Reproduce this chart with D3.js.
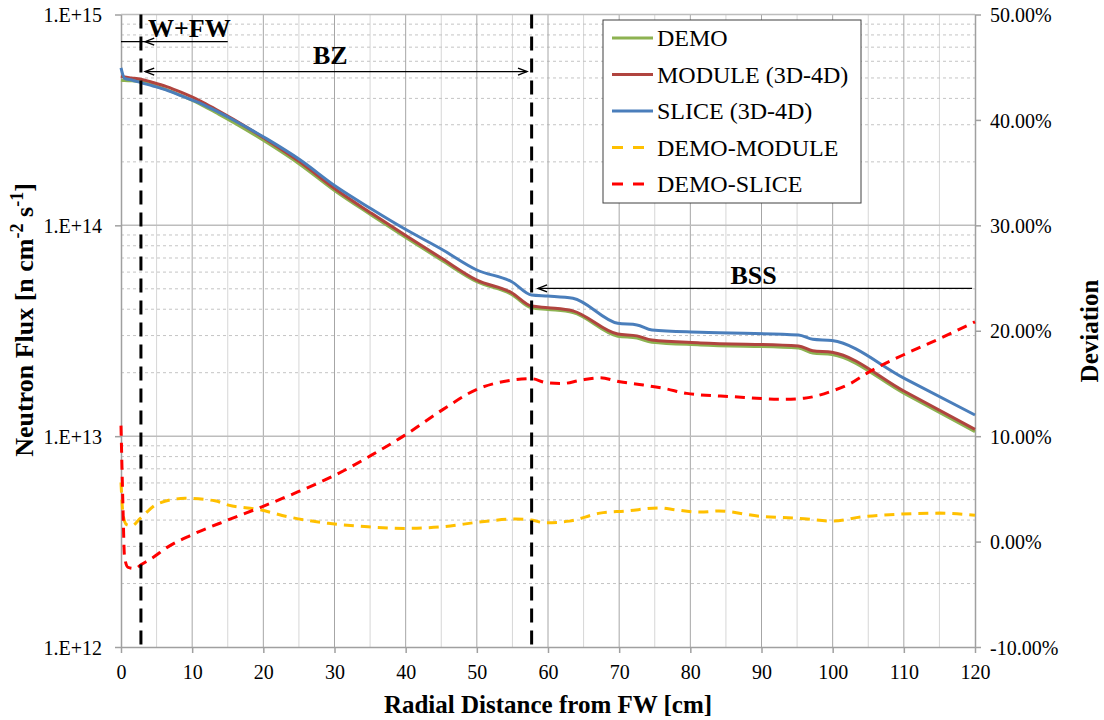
<!DOCTYPE html>
<html>
<head>
<meta charset="utf-8">
<script src="https://cdn.jsdelivr.net/npm/d3@7"></script>
<style>
  body { margin: 0; background: #fff; }
  text { font-family: "Liberation Serif", "Times New Roman", serif; fill: #000; }
</style>
</head>
<body>
<div id="chart"></div>
<script>
// radial distance [cm] for the flux curves
const fluxX = [0, 0.5, 1.5, 2.8, 4.5, 6.4, 8.5, 11.1, 13.5, 15.8, 20.5, 25.2, 30.1, 35.2, 39.9,
  45, 50, 54.9, 57.7, 60, 63.5, 69.8, 72.5, 74.6, 81.4, 95.2, 97.2, 99.9, 110, 120];

const demoFlux = [4.88e14, 4.86e14, 4.85e14, 4.80e14, 4.62e14, 4.40e14, 4.12e14, 3.76e14, 3.40e14, 3.08e14,
  2.47e14, 1.94e14, 1.455e14, 1.117e14, 8.80e13, 6.85e13, 5.40e13, 4.70e13, 4.06e13, 3.99e13,
  3.86e13, 2.98e13, 2.92e13, 2.79e13, 2.71e13, 2.62e13, 2.48e13, 2.44e13, 1.60e13, 1.05e13];

const moduleFlux = [5.11e14, 5.05e14, 5.00e14, 4.93e14, 4.76e14, 4.55e14, 4.27e14, 3.90e14, 3.52e14, 3.18e14,
  2.54e14, 1.99e14, 1.487e14, 1.14e14, 8.99e13, 7.00e13, 5.50e13, 4.79e13, 4.14e13, 4.07e13,
  3.93e13, 3.05e13, 2.99e13, 2.86e13, 2.77e13, 2.68e13, 2.54e13, 2.50e13, 1.637e13, 1.077e13];

const sliceFlux = [5.58e14, 4.98e14, 4.89e14, 4.75e14, 4.58e14, 4.38e14, 4.11e14, 3.80e14, 3.47e14, 3.16e14,
  2.57e14, 2.04e14, 1.536e14, 1.195e14, 9.60e13, 7.72e13, 6.14e13, 5.40e13, 4.67e13, 4.62e13,
  4.51e13, 3.43e13, 3.37e13, 3.19e13, 3.11e13, 3.02e13, 2.88e13, 2.84e13, 1.886e13, 1.26e13];

// deviations [%]
const devModuleX = [0, 0.3, 0.8, 1.5, 2.7, 5.2, 9, 13.2, 15.1, 19.3, 23.5, 29.1, 34.7, 39.9, 45.1, 50.7,
  55.4, 57.7, 59.6, 63, 67.3, 71, 75.7, 78, 81.4, 84, 89.8, 95.4, 100, 104, 109.5, 115, 120];
const devModule = [5.6, 2.5, 1.6, 1.5, 2.2, 3.6, 4.1, 3.87, 3.46, 3.05, 2.35, 1.73, 1.4, 1.25, 1.4, 1.88,
  2.14, 2.04, 1.78, 1.94, 2.7, 2.9, 3.2, 3.0, 2.8, 2.9, 2.4, 2.2, 1.94, 2.33, 2.6, 2.7, 2.5];

const devSliceX = [0, 0.25, 0.5, 1.0, 2.0, 2.8, 4.3, 6.6, 9.9, 15, 19.8, 24.9, 30.1, 35.2, 39.9, 45.1,
  50.2, 54.4, 57.7, 59.6, 62.1, 64.5, 67.3, 70.1, 73.4, 76.5, 79.5, 86, 93, 96, 100, 102.5, 105,
  109.9, 115.1, 120];
const devSlice = [11.0, 4.0, -1.5, -2.45, -2.55, -2.2, -1.6, -0.5, 0.62, 2.04, 3.3, 4.73, 6.31, 8.2, 10.1, 12.47,
  14.5, 15.26, 15.45, 15.1, 15.0, 15.3, 15.54, 15.16, 14.85, 14.5, 14.06, 13.74, 13.5, 13.6, 14.3, 15.0, 16.05,
  17.7, 19.28, 20.85];

const xTicks = d3.range(0, 121, 10);
const fluxTicks = [1e12, 1e13, 1e14, 1e15];
const devTicks = d3.range(-10, 51, 10);
const legendNames = ["DEMO", "MODULE (3D-4D)", "SLICE (3D-4D)", "DEMO-MODULE", "DEMO-SLICE"];

// layer boundaries [cm]
const boundaries = [2.8, 57.7];

const width = 1104, height = 720;
const plotLeft = 121, plotRight = 975, plotTop = 14.5, plotBottom = 647;

const x = d3.scaleLinear().domain([0, 120]).range([plotLeft, plotRight]);
const y = d3.scaleLog().domain([1e12, 1e15]).range([plotBottom, plotTop]);
const y2 = d3.scaleLinear().domain([-10, 50]).range([plotBottom, plotTop]);

const svg = d3.create('svg')
  .attr('width', width)
  .attr('height', height);

// grid
const minorX = d3.range(5, 120, 10);
svg.append('g').selectAll('line').data(minorX).join('line')
  .attr('x1', d => x(d)).attr('x2', d => x(d))
  .attr('y1', plotTop).attr('y2', plotBottom)
  .attr('stroke', '#d6d6d6').attr('stroke-width', 1);

const minorY = [];
[1e12, 1e13, 1e14].forEach(dec => {
  for (let k = 2; k <= 9; k++) minorY.push(k * dec);
});
svg.append('g').selectAll('line').data(minorY).join('line')
  .attr('x1', plotLeft).attr('x2', plotRight)
  .attr('y1', d => y(d)).attr('y2', d => y(d))
  .attr('stroke', '#c4c4c4').attr('stroke-width', 1)
  .attr('stroke-dasharray', '3,3');

svg.append('g').selectAll('line').data(xTicks.slice(1, -1)).join('line')
  .attr('x1', d => x(d)).attr('x2', d => x(d))
  .attr('y1', plotTop).attr('y2', plotBottom)
  .attr('stroke', '#a6a6a6').attr('stroke-width', 1);

svg.append('g').selectAll('line').data(fluxTicks.slice(1)).join('line')
  .attr('x1', plotLeft).attr('x2', plotRight)
  .attr('y1', d => y(d)).attr('y2', d => y(d))
  .attr('stroke', '#bdbdbd').attr('stroke-width', 1.5);

// axes
const styleAxis = g => {
  g.select('.domain').attr('stroke', '#a0a0a0').attr('stroke-width', 1.5);
  g.selectAll('.tick line').attr('stroke', '#a0a0a0').attr('stroke-width', 1.5);
  g.selectAll('.tick text').attr('font-size', 20).attr('font-family', '"Liberation Serif", serif').attr('fill', '#000');
};

svg.append('g')
  .attr('transform', `translate(0,${plotBottom})`)
  .call(d3.axisBottom(x).tickValues(xTicks).tickSize(6).tickSizeOuter(0).tickPadding(12))
  .call(styleAxis);

svg.append('g')
  .attr('transform', `translate(${plotLeft},0)`)
  .call(d3.axisLeft(y).tickValues(fluxTicks).tickSize(6).tickSizeOuter(0).tickPadding(13)
    .tickFormat(d => '1.E+' + Math.round(Math.log10(d))))
  .call(styleAxis)
  .call(g => g.selectAll('.tick text').attr('dy', '0.36em'));

svg.append('g')
  .attr('transform', `translate(${plotRight},0)`)
  .call(d3.axisRight(y2).tickValues(devTicks).tickSize(6).tickSizeOuter(0).tickPadding(9)
    .tickFormat(d => d.toFixed(2) + '%'))
  .call(styleAxis)
  .call(g => g.selectAll('.tick text').attr('dy', '0.36em'));

// flux lines
const fluxLine = d3.line()
  .x(d => x(d[0]))
  .y(d => y(d[1]))
  .curve(d3.curveMonotoneX);

const fluxSeries = [
  { values: demoFlux, color: '#8db251' },
  { values: moduleFlux, color: '#b0443f' },
  { values: sliceFlux, color: '#4a7ebb' }
];

fluxSeries.forEach(s => {
  svg.append('path')
    .datum(d3.zip(fluxX, s.values))
    .attr('d', fluxLine)
    .attr('fill', 'none')
    .attr('stroke', s.color)
    .attr('stroke-width', 3);
});

// deviation lines
const devLine = d3.line()
  .x(d => x(d[0]))
  .y(d => y2(d[1]))
  .curve(d3.curveMonotoneX);

const devSeries = [
  { xs: devModuleX, values: devModule, color: '#ffc000' },
  { xs: devSliceX, values: devSlice, color: '#ff0000' }
];

devSeries.forEach(s => {
  svg.append('path')
    .datum(d3.zip(s.xs, s.values))
    .attr('d', devLine)
    .attr('fill', 'none')
    .attr('stroke', s.color)
    .attr('stroke-width', 3)
    .attr('stroke-dasharray', '10,7');
});

// layer boundaries
svg.append('g').selectAll('line').data(boundaries).join('line')
  .attr('x1', d => x(d)).attr('x2', d => x(d))
  .attr('y1', plotTop).attr('y2', plotBottom)
  .attr('stroke', '#000').attr('stroke-width', 3)
  .attr('stroke-dasharray', '14,8');

// arrows
const arrowHead = (px, py, dir) =>
  `M${px + dir * 9},${py - 3.5}L${px},${py}L${px + dir * 9},${py + 3.5}`;

function arrow(x1, x2, yv, heads) {
  const py = y(yv);
  svg.append('line')
    .attr('x1', x(x1)).attr('x2', x(x2))
    .attr('y1', py).attr('y2', py)
    .attr('stroke', '#000').attr('stroke-width', 1.2);
  heads.forEach(h => {
    svg.append('path')
      .attr('d', arrowHead(x(h.at), py, h.dir))
      .attr('fill', 'none').attr('stroke', '#000').attr('stroke-width', 1.4);
  });
}

arrow(0, 15.0, 7.43e14, [{ at: 3.4, dir: 1 }]);
arrow(3.4, 57.05, 5.36e14, [{ at: 3.4, dir: 1 }, { at: 57.05, dir: -1 }]);
arrow(58.6, 119.6, 5.02e13, [{ at: 58.6, dir: 1 }]);

const label = (t, xv, yv, anchor) => svg.append('text')
  .attr('x', x(xv)).attr('y', y(yv))
  .attr('text-anchor', anchor)
  .attr('font-size', 26).attr('font-weight', 'bold')
  .text(t);

label('W+FW', 3.8, 7.86e14, 'start');
label('BZ', 29.4, 5.82e14, 'middle');
label('BSS', 88.9, 5.27e13, 'middle');

// axis titles
svg.append('text')
  .attr('x', (plotLeft + plotRight) / 2).attr('y', 713)
  .attr('text-anchor', 'middle')
  .attr('font-size', 25).attr('font-weight', 'bold')
  .text('Radial Distance from FW [cm]');

const yTitle = svg.append('text')
  .attr('transform', 'translate(33,320) rotate(-90)')
  .attr('text-anchor', 'middle')
  .attr('font-size', 26).attr('font-weight', 'bold');
yTitle.append('tspan').text('Neutron Flux [n cm');
yTitle.append('tspan').attr('font-size', 18).attr('dy', -10).text('-2');
yTitle.append('tspan').attr('dy', 10).text(' s');
yTitle.append('tspan').attr('font-size', 18).attr('dy', -10).text('-1');
yTitle.append('tspan').attr('dy', 10).text(']');

svg.append('text')
  .attr('transform', 'translate(1098,331) rotate(-90)')
  .attr('text-anchor', 'middle')
  .attr('font-size', 25).attr('font-weight', 'bold')
  .text('Deviation');

// legend
const legend = svg.append('g').attr('transform', 'translate(603,20)');
legend.append('rect')
  .attr('width', 258).attr('height', 183)
  .attr('fill', '#fff').attr('stroke', '#404040').attr('stroke-width', 1);

const legendColors = fluxSeries.map(s => s.color).concat(devSeries.map(s => s.color));
legendNames.forEach((name, i) => {
  const cy = 18 + i * 36.5;
  legend.append('line')
    .attr('x1', 9).attr('x2', 50)
    .attr('y1', cy).attr('y2', cy)
    .attr('stroke', legendColors[i]).attr('stroke-width', 3)
    .attr('stroke-dasharray', i > 2 ? '11,10' : null);
  legend.append('text')
    .attr('x', 54).attr('y', cy).attr('dy', '0.35em')
    .attr('font-size', 24)
    .text(name);
});

d3.select('#chart').node().appendChild(svg.node());
</script>
</body>
</html>
